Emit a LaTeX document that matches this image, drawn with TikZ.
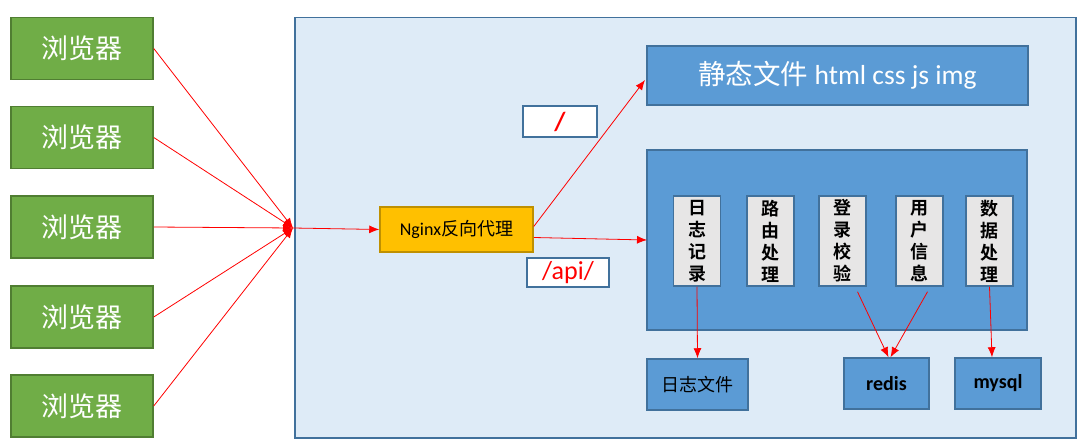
\documentclass[tikz,border=0pt]{standalone}
\usepackage{fontspec}
\setmainfont{Carlito}
\newfontfamily\cjk{Noto Sans CJK SC}[BoldFont={Noto Sans CJK SC Bold}]
\usetikzlibrary{arrows.meta}
\definecolor{bggreen}{HTML}{70AD47}
\definecolor{bdgreen}{HTML}{507E32}
\definecolor{pale}{HTML}{DEEBF7}
\definecolor{bdblue}{HTML}{41719C}
\definecolor{midblue}{HTML}{5B9BD5}
\definecolor{gold}{HTML}{FFC000}
\definecolor{bdgold}{HTML}{BF9000}
\definecolor{lgray}{HTML}{E7E6E6}
\tikzset{
 browser/.style={draw=bdgreen,fill=bggreen,line width=1.5pt,minimum width=142pt,minimum height=62pt,inner sep=0pt,text=white,font=\cjk\fontsize{27}{30}\selectfont},
 bluebox/.style={draw=bdblue,fill=midblue,line width=1.5pt,inner sep=0pt},
 lbl/.style={draw=bdblue,fill=white,line width=1.5pt,inner sep=0pt,text=red,font=\fontsize{26}{28}\selectfont},
 inner/.style={draw=bdblue,fill=lgray,line width=1.5pt,minimum width=47pt,minimum height=90pt,inner sep=0pt,align=center,font=\cjk\bfseries\fontsize{18}{22}\selectfont},
 conn/.style={red,line width=0.8pt,-{Latex[length=10pt,width=8pt]}},
}
\begin{document}
\begin{tikzpicture}[x=1pt,y=-1pt]
\useasboundingbox (0,0) rectangle (1091,446);
% container
\node[draw=bdblue,fill=pale,line width=1.5pt,minimum width=781pt,minimum height=420pt,inner sep=0pt,anchor=north west] (cont) at (294,17) {};
% browsers
\node[browser] (b1) at (82,48.5) {浏览器};
\node[browser] (b2) at (82,137.5) {浏览器};
\node[browser] (b3) at (82,227) {浏览器};
\node[browser] (b4) at (82,317) {浏览器};
\node[browser] (b5) at (82,406) {浏览器};
\coordinate (hub) at (293,228);
\foreach \b in {b1,b2,b3,b4,b5}{\draw[conn] (\b.east) -- (hub);}
% nginx
\node[draw=bdgold,fill=gold,line width=1.5pt,minimum width=153pt,minimum height=45pt,inner sep=0pt,font=\fontsize{18}{20}\selectfont] (ng) at (456.5,229.5) {Nginx{\cjk 反向代理}};
\draw[conn] (hub) -- (ng.west);
% static
\node[bluebox,minimum width=381pt,minimum height=59pt,text=white,font=\fontsize{27.5}{30}\selectfont] (st) at (837.5,75.5) {{\cjk 静态文件} html css js img};
% big app box
\node[bluebox,minimum width=380pt,minimum height=180pt] (app) at (837,240) {};
% labels
\node[lbl,minimum width=74pt,minimum height=31pt] (l1) at (560,121.5) {\textbf{/}};
\node[lbl,minimum width=82pt,minimum height=29pt] (l2) at (568,272.5) {/api/};
\draw[conn] (ng.east) ++(0,-3) coordinate (ngo1) -- (645,80) coordinate (sti);
\draw[conn] (ng.east) ++(0,8) coordinate (ngo2) -- (647,240) coordinate (appi);
% inner boxes
\node[inner] (i1) at (697,241) {日\\志\\记\\录};
\node[inner] (i2) at (770.5,241) {路\\由\\处\\理};
\node[inner] (i3) at (842.5,241) {登\\录\\校\\验};
\node[inner] (i4) at (919.5,241) {用\\户\\信\\息};
\node[inner] (i5) at (989.5,241) {数\\据\\处\\理};
% bottom boxes
\node[bluebox,minimum width=101pt,minimum height=51pt,font=\cjk\fontsize{18}{20}\selectfont] (log) at (697.5,384.5) {日志文件};
\node[bluebox,minimum width=85pt,minimum height=51pt,font=\bfseries\fontsize{20}{22}\selectfont] (redis) at (886.5,383.5) {redis};
\node[bluebox,minimum width=86pt,minimum height=51pt,font=\bfseries\fontsize{20}{22}\selectfont] (mysql) at (998,383.5) {mysql};
% inner connectors
\draw[conn] (i1.south) -- (log.north);
\draw[conn] (i3.south) ++(15,5) -- ([xshift=2pt]redis.north);
\draw[conn] (i4.south) ++(8,5) -- ([xshift=4pt]redis.north);
\draw[conn] (i5.south) -- ([xshift=-6pt]mysql.north);
\end{tikzpicture}
\end{document}
